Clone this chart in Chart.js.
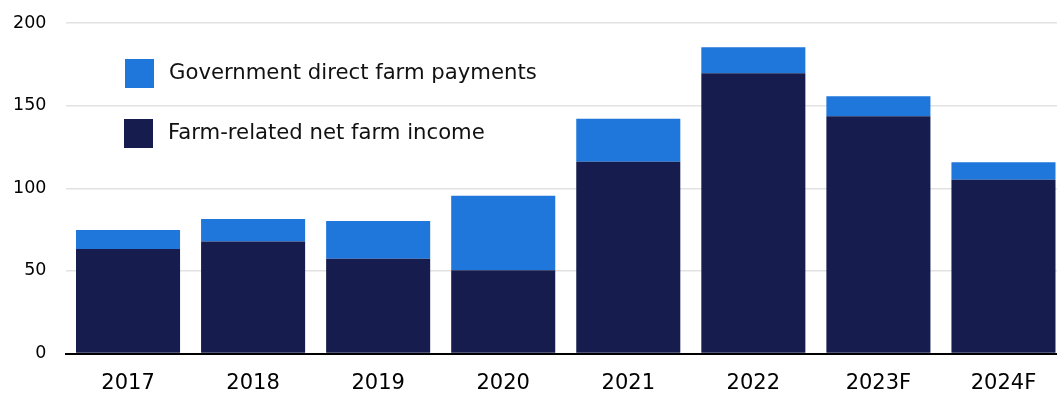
<!DOCTYPE html>
<html>
<head>
<meta charset="utf-8">
<script src="https://cdn.jsdelivr.net/npm/chart.js@4/dist/chart.umd.min.js"></script>
<style>
  html, body { margin: 0; padding: 0; background: #ffffff; }
  #wrap { position: relative; width: 1057px; height: 394px; overflow: hidden; }
  #inner { position: absolute; left: 0; top: 0; width: 1066px; height: 394px; }
  .leg { position: absolute; height: 29px; font-family: "DejaVu Sans", sans-serif; font-size: 21.2px; color: #111; white-space: nowrap; }
  .leg .box { position: absolute; left: 0; top: 0; width: 29px; height: 29px; }
  .leg .txt { position: absolute; left: 44px; top: 0; line-height: 26px; }
</style>
</head>
<body>
<div id="wrap">
  <div id="inner"><canvas id="c"></canvas></div>
  <div class="leg" id="leg1" style="left:125px; top:59px;"><span class="box" style="background:#1F76DB"></span><span class="txt"></span></div>
  <div class="leg" id="leg2" style="left:124px; top:119px;"><span class="box" style="background:#161D4E"></span><span class="txt"></span></div>
</div>
<script>
const categories = ["2017", "2018", "2019", "2020", "2021", "2022", "2023F", "2024F"];
const farmRelatedIncome = [63.2, 67.8, 57.4, 50.4, 116.1, 169.6, 143.6, 105.2];
const governmentPayments = [11.6, 13.6, 22.8, 45.1, 26.0, 15.7, 12.1, 10.5];
const seriesNames = ["Government direct farm payments", "Farm-related net farm income"];
const yTicks = [0, 50, 100, 150, 200];

const navy = "#161D4E";
const blue = "#1F76DB";

document.querySelector("#leg1 .txt").textContent = seriesNames[0];
document.querySelector("#leg2 .txt").textContent = seriesNames[1];

new Chart(document.getElementById("c"), {
  type: "bar",
  data: {
    labels: categories,
    datasets: [
      { label: seriesNames[1], data: farmRelatedIncome, backgroundColor: navy, borderWidth: 0, barPercentage: 0.832, categoryPercentage: 1 },
      { label: seriesNames[0], data: governmentPayments, backgroundColor: blue, borderWidth: 0, barPercentage: 0.832, categoryPercentage: 1 }
    ]
  },
  options: {
    responsive: true,
    maintainAspectRatio: false,
    animation: false,
    layout: { padding: { top: 23, left: 0, right: 0, bottom: 0 } },
    plugins: { legend: { display: false }, tooltip: { enabled: false } },
    scales: {
      x: {
        stacked: true,
        grid: { display: false, drawTicks: false },
        border: { display: true, color: "#000000", width: 2 },
        ticks: { color: "#000", font: { family: "'DejaVu Sans', sans-serif", size: 21 }, padding: 17 },
        afterFit: (s) => { s.height = 40.5; s.paddingLeft = 0; s.paddingRight = 0; }
      },
      y: {
        stacked: true,
        min: 0,
        max: 200,
        afterBuildTicks: (s) => { s.ticks = yTicks.map(v => ({ value: v })); },
        grid: { color: "#e2e2e2", lineWidth: 1.5, drawTicks: false },
        border: { display: false },
        ticks: { color: "#000", font: { family: "'DejaVu Sans', sans-serif", size: 17.5 }, padding: 19 },
        afterFit: (s) => { s.width = 65.5; s.paddingTop = 0; s.paddingBottom = 0; }
      }
    }
  }
});
</script>
</body>
</html>
